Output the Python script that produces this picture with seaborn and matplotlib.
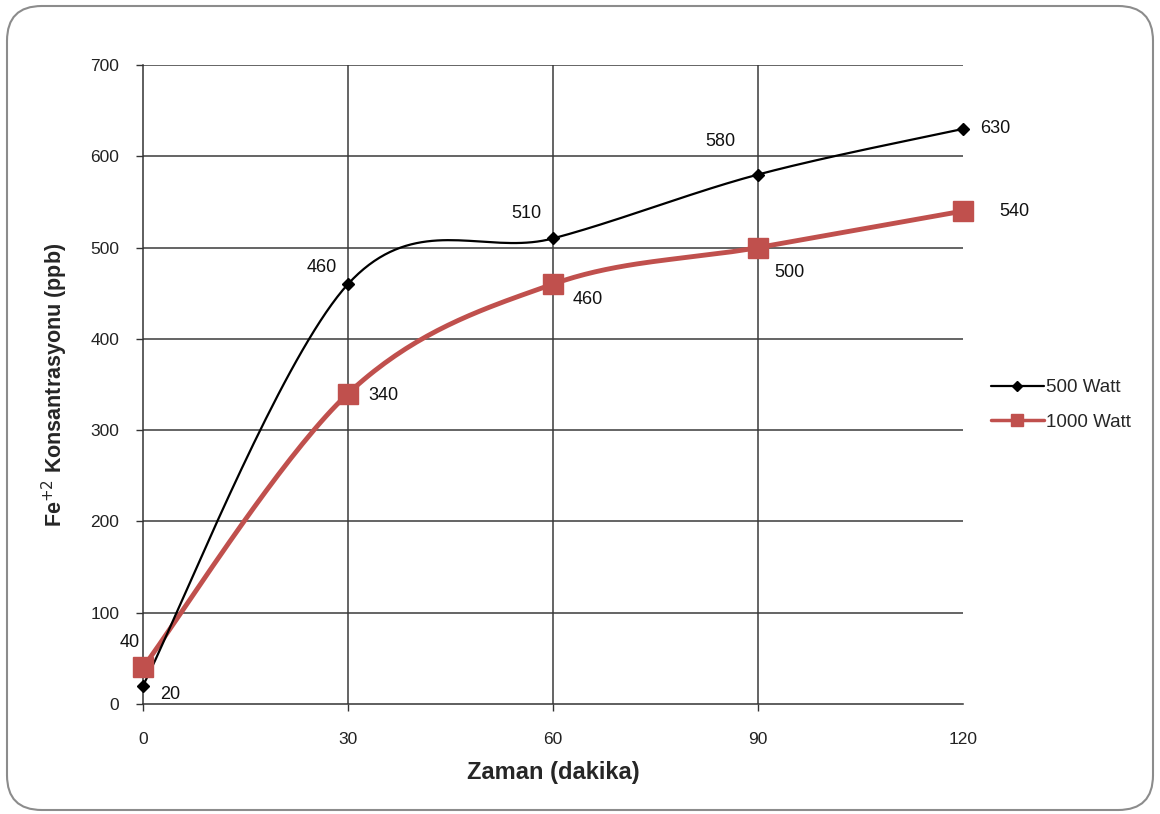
import numpy as np
import pandas as pd
import matplotlib
matplotlib.use("Agg")
import matplotlib.pyplot as plt
import seaborn as sns
from matplotlib.lines import Line2D
from matplotlib.patches import FancyBboxPatch

time_min = [0, 30, 60, 90, 120]
watt500 = [20, 460, 510, 580, 630]
watt1000 = [40, 340, 460, 500, 540]
series_names = ["500 Watt", "1000 Watt"]
y_ticks = [0, 100, 200, 300, 400, 500, 600, 700]
x_ticks = [0, 30, 60, 90, 120]

sns.set_theme(style="white")
plt.rcParams['font.family'] = ['Liberation Sans', 'DejaVu Sans']


def smooth(xs, ys, n=40):
    """Excel-like smoothed line (Catmull-Rom Bezier) through the data points."""
    P = np.column_stack([xs, ys]).astype(float)
    out = []
    for i in range(len(P) - 1):
        p0 = P[i - 1] if i > 0 else P[i]
        p1, p2 = P[i], P[i + 1]
        p3 = P[i + 2] if i + 2 < len(P) else P[i + 1]
        c1 = p1 + (p2 - p0) / 6.0
        c2 = p2 - (p3 - p1) / 6.0
        t = np.linspace(0, 1, n)[:, None]
        seg = ((1 - t) ** 3) * p1 + 3 * ((1 - t) ** 2) * t * c1 + 3 * (1 - t) * t ** 2 * c2 + t ** 3 * p2
        out.append(seg if i == 0 else seg[1:])
    s = np.vstack(out)
    return s[:, 0], s[:, 1]


fig = plt.figure(figsize=(11.6, 8.14), dpi=100)
ax = fig.add_axes([143 / 1160, 1 - 704 / 814, 820 / 1160, (704 - 65) / 814])

black = "#000000"
red = "#C0504D"

sx, sy = smooth(time_min, watt500)
df_b = pd.DataFrame({"x": sx, "y": sy})
sns.lineplot(data=df_b, x="x", y="y", ax=ax, color=black, lw=1.6, sort=False, estimator=None, zorder=4)
sx2, sy2 = smooth(time_min, watt1000)
df_r = pd.DataFrame({"x": sx2, "y": sy2})
sns.lineplot(data=df_r, x="x", y="y", ax=ax, color=red, lw=3.5, sort=False, estimator=None, zorder=3)

ax.plot(time_min, watt500, ls="none", marker="D", ms=6, color=black, zorder=6, clip_on=False)
ax.plot(time_min, watt1000, ls="none", marker="s", ms=14, color=red, zorder=5, clip_on=False)

# data labels (offsets in points)
lab_b = [(12, -6, "left", "center"), (-8, 12, "right", "center"), (-8, 18, "right", "center"),
         (-16, 24, "right", "center"), (12, 0, "left", "center")]
lab_r = [(-2, 18, "right", "center"), (15, -1, "left", "center"), (14, -11, "left", "center"),
         (12, -18, "left", "center"), (26, 0, "left", "center")]
for (x, y), (dx, dy, ha, va) in zip(zip(time_min, watt500), lab_b):
    ax.annotate(str(y), (x, y), xytext=(dx, dy), textcoords="offset points", ha=ha, va=va,
                fontsize=13, color="#111111", annotation_clip=False)
for (x, y), (dx, dy, ha, va) in zip(zip(time_min, watt1000), lab_r):
    ax.annotate(str(y), (x, y), xytext=(dx, dy), textcoords="offset points", ha=ha, va=va,
                fontsize=13, color="#111111", annotation_clip=False)

ax.set_xlim(0, 120)
ax.set_ylim(0, 700)
ax.set_xticks(x_ticks)
ax.set_yticks(y_ticks)
ax.set_xticklabels([str(v) for v in x_ticks], fontsize=12.5, color="#222222")
ax.set_yticklabels([str(v) for v in y_ticks], fontsize=12.5, color="#222222")
ax.tick_params(axis="y", direction="out", length=5, width=1, color="#333333", pad=12, left=True)
ax.tick_params(axis="x", direction="out", length=5, width=1, color="#333333", pad=15, bottom=True)
# no tick mark at the last x position
ax.get_xaxis().get_major_ticks()[-1].tick1line.set_visible(False)

# grid: horizontal lines at every y tick, vertical at 30, 60, 90
for yv in y_ticks[1:]:
    ax.axhline(yv, color="#3a3a3a", lw=1.1, zorder=1)
for xv in x_ticks[1:-1]:
    ax.axvline(xv, color="#3a3a3a", lw=1.1, zorder=1)

for s in ["top", "right"]:
    ax.spines[s].set_visible(False)
for s in ["left", "bottom"]:
    ax.spines[s].set_color("#333333")
    ax.spines[s].set_linewidth(1.1)

ax.set_xlabel("Zaman (dakika)", fontsize=17, fontweight="bold", labelpad=10)
ax.set_ylabel("Fe$^{+2}$ Konsantrasyonu (ppb)", fontsize=15.5, fontweight="bold", labelpad=15)

handles = [Line2D([0], [0], color=black, lw=1.6, marker="D", ms=5),
           Line2D([0], [0], color=red, lw=2.5, marker="s", ms=8)]
leg = fig.legend(handles, series_names, loc="center left", bbox_to_anchor=(991 / 1160, 1 - 405 / 814),
                 frameon=False, fontsize=13.5, handlelength=2.8, handletextpad=0.15, labelspacing=0.95,
                 borderaxespad=0, borderpad=0)

border = FancyBboxPatch((7 / 1160, 4 / 814), 1146 / 1160, 804 / 814, boxstyle="round,pad=0,rounding_size=0.03",
                        transform=fig.transFigure, fill=False, edgecolor="#8c8c8c", lw=1.5,
                        mutation_aspect=1160 / 814)
fig.patches.append(border)

fig.savefig("out.png", dpi=100)
